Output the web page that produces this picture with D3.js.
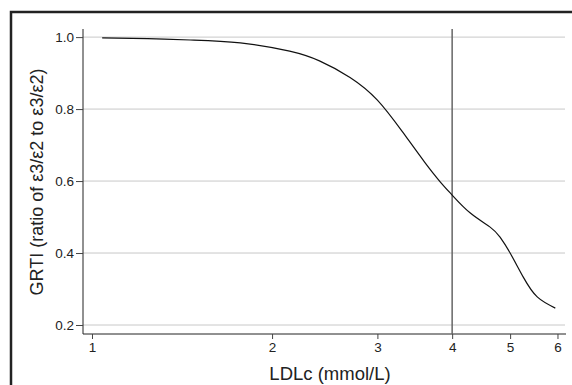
<!DOCTYPE html>
<html>
<head>
<meta charset="utf-8">
<script src="https://cdn.jsdelivr.net/npm/d3@7"></script>
<style>
  body { margin: 0; background: #fff; }
  text { font-family: Arial, "Liberation Sans", Helvetica, sans-serif; fill: #222; }
</style>
</head>
<body>
<svg id="chart" width="572" height="385"></svg>
<script>
// LDLc (mmol/L) vs GRTI
const ldlc = [1.04, 1.24, 1.46, 1.77, 2.14, 2.4, 2.7, 3.0, 3.3, 3.6, 3.82, 4.0, 4.29, 4.63, 4.81, 5.0, 5.26, 5.55, 5.95];
const grti = [0.998, 0.996, 0.992, 0.984, 0.961, 0.934, 0.888, 0.825, 0.738, 0.652, 0.598, 0.561, 0.511, 0.472, 0.444, 0.40, 0.333, 0.278, 0.247];
const xTicks = [1, 2, 3, 4, 5, 6];
const yTicks = [0.2, 0.4, 0.6, 0.8, 1.0];
const cutoff = 4;

const svg = d3.select('#chart');

// outer frame, only top and left edges show
svg.append('rect')
  .attr('x', 11).attr('y', 12)
  .attr('width', 620).attr('height', 420)
  .attr('fill', 'none')
  .attr('stroke', '#222')
  .attr('stroke-width', 2.5);

const x = d3.scaleLog().domain([0.966, 6.2]).range([83, 566]);
const y = d3.scaleLinear().domain([0.175, 1.0225]).range([334, 29]);

// grid
svg.append('g')
  .selectAll('line')
  .data(yTicks)
  .join('line')
  .attr('x1', x.range()[0]).attr('x2', x.range()[1] - 1)
  .attr('y1', (d) => y(d)).attr('y2', (d) => y(d))
  .attr('stroke', '#c8c8c8')
  .attr('stroke-width', 1);

// y axis
const yAxis = svg.append('g')
  .attr('transform', `translate(${x.range()[0]},0)`)
  .call(d3.axisLeft(y).tickValues(yTicks).tickFormat(d3.format('.1f')).tickSize(7).tickPadding(2))
  .attr('font-size', 13.5);
yAxis.select('.domain').attr('stroke', '#222').attr('d', `M0,${y.range()[1]}V${y.range()[0]}`);
yAxis.selectAll('.tick line').attr('stroke', '#444');

// x axis
const xAxis = svg.append('g')
  .attr('transform', `translate(0,${y.range()[0]})`)
  .call(d3.axisBottom(x).tickValues(xTicks).tickFormat(d3.format('d')).tickSize(5).tickPadding(3))
  .attr('font-size', 13.5);
xAxis.select('.domain').attr('stroke', '#222').attr('d', `M${x.range()[0]},0H${x.range()[1]}`);
xAxis.selectAll('.tick line').attr('stroke', '#444');

// cutoff line
svg.append('line')
  .attr('x1', x(cutoff)).attr('x2', x(cutoff))
  .attr('y1', y.range()[1]).attr('y2', y.range()[0])
  .attr('stroke', '#666')
  .attr('stroke-width', 1.5);

// curve
const pts = ldlc.map((v, i) => [v, grti[i]]);
svg.append('path')
  .datum(pts)
  .attr('fill', 'none')
  .attr('stroke', '#111')
  .attr('stroke-width', 1.2)
  .attr('d', d3.line().x((d) => x(d[0])).y((d) => y(d[1])).curve(d3.curveNatural));

// labels
svg.append('text')
  .attr('x', 330).attr('y', 380)
  .attr('text-anchor', 'middle')
  .attr('font-size', 18.5)
  .text('LDLc (mmol/L)');

svg.append('text')
  .attr('transform', 'translate(43,182) rotate(-90)')
  .attr('text-anchor', 'middle')
  .attr('font-size', 18)
  .text('GRTI (ratio of ε3/ε2 to ε3/ε2)');
</script>
</body>
</html>
